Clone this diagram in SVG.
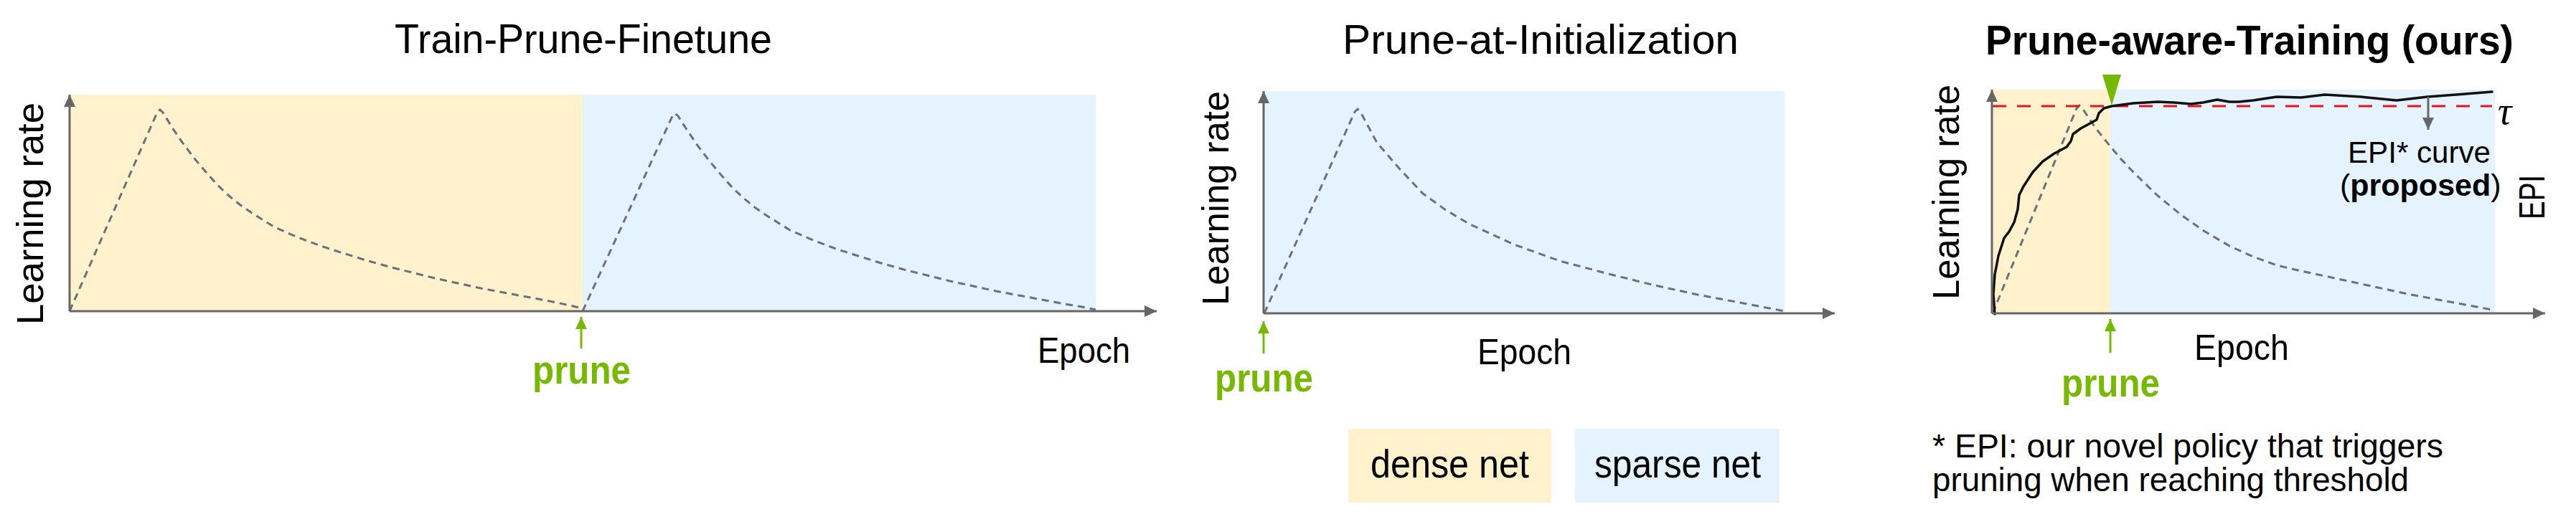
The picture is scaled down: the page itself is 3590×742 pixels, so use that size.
<svg xmlns="http://www.w3.org/2000/svg" width="3590" height="742" viewBox="0 0 3590 742">
<defs>
<style>
.t{font-family:"Liberation Sans",Arial,sans-serif;fill:#000}
.b{font-weight:bold}
.g{fill:#76B900}
.ax{stroke:#666;stroke-width:3;fill:none}
.lr{stroke:#6b7079;stroke-width:3;fill:none;stroke-dasharray:10 7}
.yel{fill:#FFF2CC}
.blu{fill:#E5F3FE}
.pa{stroke:#76B900;stroke-width:3;fill:none}
</style>
<marker id="ah" markerUnits="userSpaceOnUse" markerWidth="18" markerHeight="18" viewBox="0 0 18 18" refX="17" refY="9" orient="auto"><path d="M0,1 L17,9 L0,17 z" fill="#666"/></marker>
<marker id="ag" markerUnits="userSpaceOnUse" markerWidth="18" markerHeight="18" viewBox="0 0 18 18" refX="17" refY="9" orient="auto"><path d="M0,1 L17,9 L0,17 z" fill="#76B900"/></marker>
</defs>
<rect width="3590" height="742" fill="#fff"/>

<g id="panel-train-prune-finetune">
<rect class="yel" x="97" y="132" width="715" height="302"/>
<rect class="blu" x="812" y="132" width="715" height="302"/>
<polyline class="lr" points="97,434 219,157 223,153 227,157 240,178 255,200 271,221 287,240 303,258 319,273 335,286 351,297 383,317 415,331 447,343 478,353 510,363 542,372 574,380 606,388 638,395 670,402 702,408 734,414 766,420 790,425 812,430"/>
<polyline class="lr" points="812,434 937,162 941,158 945,162 958,182 973,204 989,225 1005,244 1021,262 1037,277 1053,290 1069,301 1101,321 1133,335 1165,347 1196,357 1228,367 1260,376 1292,384 1324,392 1356,399 1388,406 1420,412 1452,418 1484,424 1508,428 1527,432"/>
<text class="t" x="550" y="74" font-size="57" textLength="526" lengthAdjust="spacingAndGlyphs">Train-Prune-Finetune</text>
<text class="t" transform="translate(60,453) rotate(-90)" font-size="52" textLength="310" lengthAdjust="spacingAndGlyphs">Learning rate</text>
<text class="t" x="1446" y="506" font-size="50" textLength="129" lengthAdjust="spacingAndGlyphs">Epoch</text>
<text class="t b g" x="742" y="535" font-size="55" textLength="137" lengthAdjust="spacingAndGlyphs">prune</text>
</g>

<g id="panel-prune-at-init">
<rect class="blu" x="1761" y="127" width="726" height="310"/>
<polyline class="lr" points="1762,437 1888,156 1892,152 1896,156 1905,173 1919,199 1951,236 1983,270 2015,293 2047,312 2110,341 2174,364 2238,381 2302,397 2366,411 2430,423 2487,434"/>
<text class="t" x="1871" y="75" font-size="57" textLength="552" lengthAdjust="spacingAndGlyphs">Prune-at-Initialization</text>
<text class="t" transform="translate(1712,426) rotate(-90)" font-size="52" textLength="299" lengthAdjust="spacingAndGlyphs">Learning rate</text>
<text class="t" x="2059" y="508" font-size="50" textLength="131" lengthAdjust="spacingAndGlyphs">Epoch</text>
<text class="t b g" x="1693" y="546" font-size="55" textLength="137" lengthAdjust="spacingAndGlyphs">prune</text>
</g>

<g id="legend-dense">
<rect class="yel" x="1879" y="598" width="283" height="103"/>
<text class="t" x="1910" y="666" font-size="55" textLength="221" lengthAdjust="spacingAndGlyphs">dense net</text>
</g>
<g id="legend-sparse">
<rect class="blu" x="2195" y="598" width="285" height="103"/>
<text class="t" x="2222" y="666" font-size="55" textLength="232" lengthAdjust="spacingAndGlyphs">sparse net</text>
</g>

<g id="panel-prune-aware-training">
<rect class="yel" x="2776" y="125" width="165" height="312"/>
<rect class="blu" x="2941" y="125" width="536" height="312"/>
<polyline class="lr" points="2777,437 2894,151 2898,147 2902,151 2920,178 2940,203 2956,222 2973,240 3007,273 3040,300 3073,323 3107,343 3140,358 3173,370 3207,378 3240,385 3300,398 3360,411 3420,422 3473,432"/>
<line x1="2777" y1="148" x2="3473" y2="148" stroke="#E3151A" stroke-width="3" stroke-dasharray="19 15"/>
<polyline fill="none" stroke="#111" stroke-width="3.5" stroke-linejoin="round" stroke-linecap="round" points="2780,438 2778,410 2780,383 2785,357 2793,332 2800,323 2807,310 2812,292 2814,272 2820,260 2833,240 2847,225 2863,214 2880,205 2886,197 2889,187 2900,179 2922,167 2925,158 2932,151 2943,148 2973,144 3007,142 3030,143 3053,145 3070,143 3090,139 3107,142 3120,142 3140,140 3173,135 3207,136 3240,132 3290,135 3340,140 3383,135 3423,132 3473,128"/>
<polygon points="2930,104 2956,104 2943,147" fill="#76B900"/>
<text class="t b" x="2767" y="76" font-size="57" textLength="736" lengthAdjust="spacingAndGlyphs">Prune-aware-Training (ours)</text>
<text class="t" transform="translate(2730,418) rotate(-90)" font-size="52" textLength="300" lengthAdjust="spacingAndGlyphs">Learning rate</text>
<text class="t" x="3058" y="502" font-size="50" textLength="132" lengthAdjust="spacingAndGlyphs">Epoch</text>
<text class="t b g" x="2873" y="553" font-size="55" textLength="137" lengthAdjust="spacingAndGlyphs">prune</text>
<text class="t" x="3272" y="227" font-size="43" textLength="199" lengthAdjust="spacingAndGlyphs">EPI* curve</text>
<text class="t" x="3261" y="273" font-size="43">(<tspan class="b">proposed</tspan>)</text>
<text class="t" transform="translate(3546,306) rotate(-90)" font-size="50" textLength="62" lengthAdjust="spacingAndGlyphs">EPI</text>
<text x="3481" y="173" font-family="'Liberation Serif','Times New Roman',serif" font-style="italic" font-size="54" fill="#000">τ</text>
</g>

<g id="footnote">
<text class="t" x="2693" y="638" font-size="46" textLength="712" lengthAdjust="spacingAndGlyphs">* EPI: our novel policy that triggers</text>
<text class="t" x="2693" y="685" font-size="46" textLength="664" lengthAdjust="spacingAndGlyphs">pruning when reaching threshold</text>
</g>

<g id="connectors">
<line class="ax" x1="97" y1="434" x2="97" y2="132" marker-end="url(#ah)"/>
<line class="ax" x1="97" y1="434" x2="1612" y2="434" marker-end="url(#ah)"/>
<line class="ax" x1="1761" y1="437" x2="1761" y2="127" marker-end="url(#ah)"/>
<line class="ax" x1="1761" y1="437" x2="2557" y2="437" marker-end="url(#ah)"/>
<line class="ax" x1="2776" y1="437" x2="2776" y2="125" marker-end="url(#ah)"/>
<line class="ax" x1="2776" y1="437" x2="3547" y2="437" marker-end="url(#ah)"/>
<line class="pa" x1="810" y1="486" x2="810" y2="442" marker-end="url(#ag)"/>
<line class="pa" x1="1761" y1="493" x2="1761" y2="448" marker-end="url(#ag)"/>
<line class="pa" x1="2941" y1="492" x2="2941" y2="445" marker-end="url(#ag)"/>
<line x1="3384" y1="135" x2="3384" y2="181" stroke="#666" stroke-width="3" marker-end="url(#ah)"/>
</g>
</svg>
